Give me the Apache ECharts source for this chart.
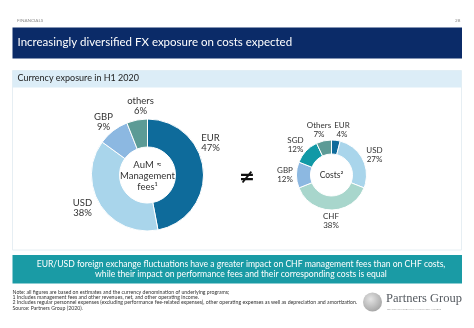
<!DOCTYPE html>
<html>
<head>
<meta charset="utf-8">
<script src="https://cdn.jsdelivr.net/npm/echarts@6/dist/echarts.min.js"></script>
<style>
  html, body { margin: 0; padding: 0; background: #ffffff; }
  #chart { width: 474px; height: 328px; }
</style>
</head>
<body>
<div id="chart"></div>
<script>
// Currency split of AuM (management fees), H1 2020
const aumCurrencies = ['EUR', 'USD', 'GBP', 'others'];
const aumShares = [47, 38, 9, 6];

// Currency split of costs, H1 2020
const costCurrencies = ['EUR', 'USD', 'CHF', 'GBP', 'SGD', 'Others'];
const costShares = [4, 27, 38, 12, 12, 7];

const currencyColors = {
  EUR: '#0e6b9b', USD: '#a9d5eb', GBP: '#8cb8e1', others: '#5c9b96',
  Others: '#5c9b96', CHF: '#a8d6cc', SGD: '#1199a6'
};

const FONT = 'Lato, "Noto Sans", sans-serif';
const aumCenter = [147.5, 175];
const costCenter = [331.5, 175];

// label placement around each ring, relative to its centre
const aumLabelOffsets = [[63, -32], [-65, 33], [-44, -53], [-7, -69]];
const costLabelOffsets = [[10.5, -45], [43, -20], [-0.5, 46], [-46.5, 0], [-36, -30], [-12.5, -45]];

const notes = [
  'Note: all figures are based on estimates and the currency denomination of underlying programs;',
  '1 Includes management fees and other revenues, net, and other operating income.',
  '2 Includes regular personnel expenses (excluding performance fee-related expenses), other operating expenses as well as depreciation and amortization.',
  'Source: Partners Group (2020).'
];

function pieData(names, values) {
  return names.map((n, i) => ({ name: n, value: values[i], itemStyle: { color: currencyColors[n] } }));
}

function placeLabels(center, offsets) {
  return function (p) {
    const o = offsets[p.dataIndex];
    return { x: center[0] + o[0], y: center[1] + o[1], align: 'center', verticalAlign: 'middle' };
  };
}

const chart = echarts.init(document.getElementById('chart'), null, { renderer: 'canvas' });

const graphics = [
  // page header
  { type: 'text', left: 17, top: 18.5, style: { text: 'FINANCIALS', font: '4.6px ' + FONT, fill: '#8a8a8a' } },
  { type: 'text', left: 455, top: 18.5, style: { text: '28', font: '4.6px ' + FONT, fill: '#8a8a8a' } },
  { type: 'rect', shape: { x: 12.5, y: 27.5, width: 449.5, height: 31 }, style: { fill: '#0b2b68' } },
  { type: 'text', left: 17.5, top: 36, style: { text: 'Increasingly diversified FX exposure on costs expected', font: '11.5px ' + FONT, fill: '#ffffff' } },
  // panel
  { type: 'rect', shape: { x: 12.5, y: 70.5, width: 449, height: 179.5 }, style: { fill: '#ffffff', stroke: '#e6eef3', lineWidth: 1 } },
  { type: 'rect', shape: { x: 12.5, y: 70.5, width: 449, height: 17 }, style: { fill: '#dcedf7' } },
  { type: 'text', left: 17.5, top: 74, style: { text: 'Currency exposure in H1 2020', font: '9px ' + FONT, fill: '#222222' } },
  // centre captions
  { type: 'text', x: aumCenter[0], y: aumCenter[1] + 1, z: 10, style: { text: 'AuM \u2248\nManagement\nfees\u00b9', font: '9.5px ' + FONT, lineHeight: 11, fill: '#333333', align: 'center', verticalAlign: 'middle' } },
  { type: 'text', x: costCenter[0], y: costCenter[1], z: 10, style: { text: 'Costs\u00b2', font: '8.5px ' + FONT, fill: '#333333', align: 'center', verticalAlign: 'middle' } },
  { type: 'text', x: 247, y: 178, style: { text: '\u2260', font: 'bold 19px "DejaVu Sans", sans-serif', fill: '#111111', align: 'center', verticalAlign: 'middle' } },
  // conclusion box
  { type: 'rect', shape: { x: 12.5, y: 255, width: 449.5, height: 28.5 }, style: { fill: '#1a9ba5' } },
  { type: 'text', x: 241, y: 269, style: { text: 'EUR/USD foreign exchange fluctuations have a greater impact on CHF management fees than on CHF costs,\nwhile their impact on performance fees and their corresponding costs is equal', font: '8.6px ' + FONT, lineHeight: 10.5, fill: '#ffffff', align: 'center', verticalAlign: 'middle' } },
  // footnotes
  { type: 'text', left: 12.5, top: 289.5, style: { text: notes.join('\n'), font: '5.2px ' + FONT, lineHeight: 5.3, fill: '#333333' } },
  // logo
  { type: 'circle', shape: { cx: 372.5, cy: 302, r: 9.5 }, style: { fill: new echarts.graphic.RadialGradient(0.4, 0.35, 0.8, [{ offset: 0, color: '#e4e4e4' }, { offset: 1, color: '#9a9a9a' }]) } },
  { type: 'text', left: 386, top: 292.5, style: { text: 'Partners Group', font: '12.5px "Liberation Serif", serif', fill: '#555a60' } },
  { type: 'text', left: 387, top: 307.5, style: { text: 'REALISING POTENTIAL IN PRIVATE MARKETS', font: '2.6px ' + FONT, fill: '#999999' } }
];

const labelBase = { show: true, position: 'outside', formatter: '{b}\n{c}%', fontFamily: FONT, color: '#333333' };

chart.setOption({
  animation: false,
  graphic: graphics,
  series: [
    {
      type: 'pie',
      center: aumCenter,
      radius: [28, 56],
      startAngle: 90,
      clockwise: true,
      avoidLabelOverlap: false,
      silent: true,
      itemStyle: { borderColor: '#ffffff', borderWidth: 1 },
      label: Object.assign({}, labelBase, { fontSize: 9.5, lineHeight: 10.5 }),
      labelLine: { show: false },
      labelLayout: placeLabels(aumCenter, aumLabelOffsets),
      data: pieData(aumCurrencies, aumShares)
    },
    {
      type: 'pie',
      center: costCenter,
      radius: [21, 35],
      startAngle: 90,
      clockwise: true,
      avoidLabelOverlap: false,
      silent: true,
      itemStyle: { borderColor: '#ffffff', borderWidth: 1 },
      label: Object.assign({}, labelBase, { fontSize: 8, lineHeight: 9.3 }),
      labelLine: { show: false },
      labelLayout: placeLabels(costCenter, costLabelOffsets),
      data: pieData(costCurrencies, costShares)
    }
  ]
});
</script>
</body>
</html>
